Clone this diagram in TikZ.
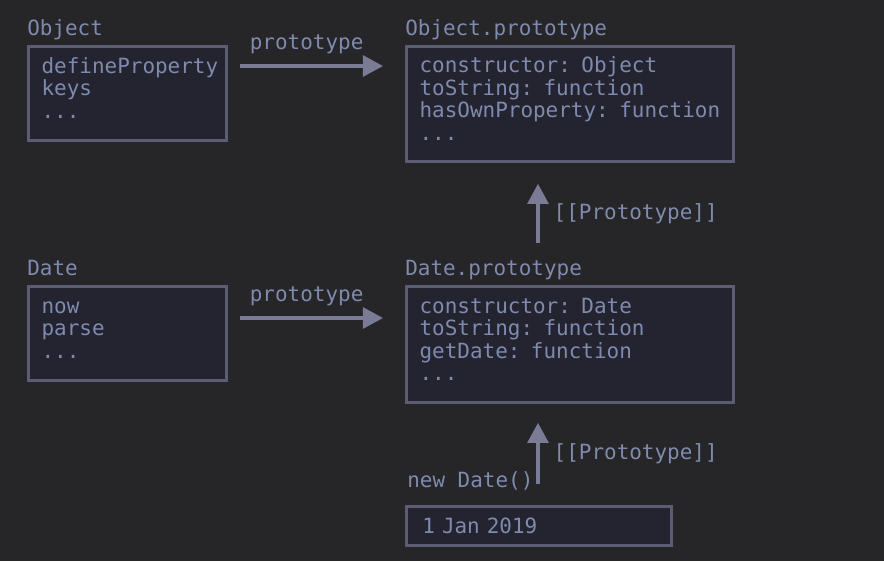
\documentclass[tikz,border=0pt]{standalone}
\usepackage{fontspec}
\setmonofont{DejaVu Sans Mono}[WordSpace={1,0,0}]
\usetikzlibrary{arrows.meta, positioning, calc}

\definecolor{bgcol}{HTML}{262628}
\definecolor{boxfill}{HTML}{232430}
\definecolor{boxline}{HTML}{5C5C75}
\definecolor{textcol}{HTML}{7F8AAE}
\definecolor{arrowcol}{HTML}{7A7C96}

% struts so every box starts and ends the same way
\newcommand\rowtop{\rule{0pt}{11.3pt}}
\newcommand\rowend{\rule[-7.8pt]{0pt}{0pt}}

\begin{document}
\begin{tikzpicture}[x=0.025cm, y=-0.025cm,
        font=\ttfamily\fontsize{14.9}{16}\selectfont, text=textcol,
        membox/.style={draw=boxline, fill=boxfill, line width=2pt, anchor=north west,
            align=left, inner xsep=0.33cm, inner ysep=0pt},
        title/.style={inner sep=0pt, text depth=3.5pt},
        link/.style={draw=arrowcol, line width=2.4pt, -{Triangle[length=0.5cm, width=0.52cm]}},
        linklabel/.style={inner sep=0pt}]

        % Background
        \fill[bgcol] (0,0) rectangle (884,561);

        % Constructors (left column)
        \node[membox, text width=4.29cm, minimum height=2.35cm] (obj) at (27,45)
            {\rowtop defineProperty\\keys\\...\rowend};
        \node[membox, text width=4.29cm, minimum height=2.35cm] (date) at (27,285)
            {\rowtop now\\parse\\...\rowend};

        % Prototypes (right column)
        \node[membox, text width=7.515cm, minimum height=2.875cm] (objproto) at (405,45)
            {\rowtop constructor: Object\\toString: function\\hasOwnProperty: function\\...\rowend};
        \node[membox, text width=7.515cm, minimum height=2.9cm] (dateproto) at (405,285)
            {\rowtop constructor: Date\\toString: function\\getDate: function\\...\rowend};

        % Instance
        \node[membox, inner xsep=0.4cm, text width=5.825cm, minimum height=0.975cm] (today) at (405,505) {1 Jan 2019};

        % Titles
        \node[title, above right=0.12cm and 0cm of obj.north west] (objtitle) {Object};
        \node[title, above right=0.12cm and 0cm of objproto.north west] (objprototitle) {Object.prototype};
        \node[title, above right=0.12cm and 0cm of date.north west] (datetitle) {Date};
        \node[title, above right=0.12cm and 0cm of dateproto.north west] (dateprototitle) {Date.prototype};
        \node[title, above right=0.3cm and 0.05cm of today.north west] (todaytitle) {new Date()};

        % prototype links
        \draw[link] ($(obj.north east)+(12,21)$) -- node[linklabel, above=0.25cm, xshift=-0.12cm] (objlink) {prototype}
            ($(objproto.north west)+(-22,21)$);
        \draw[link] ($(date.north east)+(12,33)$) -- node[linklabel, above=0.25cm, xshift=-0.12cm] (datelink) {prototype}
            ($(dateproto.north west)+(-22,33)$);

        % [[Prototype]] links
        \draw[link] ($(dateproto.north west)+(133,-42)$) -- node[linklabel, right=0.35cm] (upper) {[[Prototype]]}
            ($(objproto.south west)+(133,21)$);
        \draw[link] ($(today.north west)+(133,-21)$) -- node[linklabel, right=0.35cm] (lower) {[[Prototype]]}
            ($(dateproto.south west)+(133,19)$);
\end{tikzpicture}
\end{document}
